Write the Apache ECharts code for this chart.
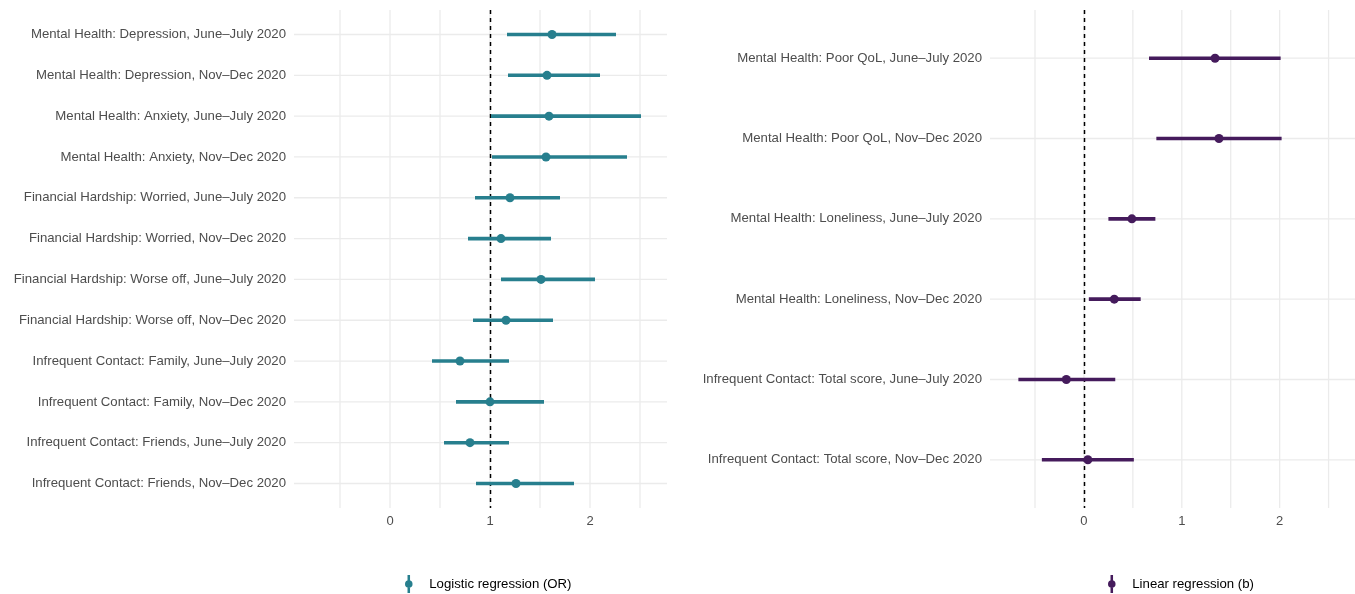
<!DOCTYPE html>
<html><head><meta charset="utf-8">
<script src="https://cdn.jsdelivr.net/npm/echarts@6/dist/echarts.min.js"></script>
<style>html,body{margin:0;padding:0;background:#fff}#c{width:1355px;height:594px}</style>
</head><body><div id="c"></div>
<script>
// Left panel: logistic regression (OR)
const leftCategories = [
  "Mental Health: Depression, June\u2013July 2020",
  "Mental Health: Depression, Nov\u2013Dec 2020",
  "Mental Health: Anxiety, June\u2013July 2020",
  "Mental Health: Anxiety, Nov\u2013Dec 2020",
  "Financial Hardship: Worried, June\u2013July 2020",
  "Financial Hardship: Worried, Nov\u2013Dec 2020",
  "Financial Hardship: Worse off, June\u2013July 2020",
  "Financial Hardship: Worse off, Nov\u2013Dec 2020",
  "Infrequent Contact: Family, June\u2013July 2020",
  "Infrequent Contact: Family, Nov\u2013Dec 2020",
  "Infrequent Contact: Friends, June\u2013July 2020",
  "Infrequent Contact: Friends, Nov\u2013Dec 2020"
];
const leftEstimate = [1.62, 1.57, 1.59, 1.56, 1.20, 1.11, 1.51, 1.16, 0.70, 1.00, 0.80, 1.26];
const leftLower    = [1.17, 1.18, 1.01, 1.02, 0.85, 0.78, 1.11, 0.83, 0.42, 0.66, 0.54, 0.86];
const leftUpper    = [2.26, 2.10, 2.51, 2.37, 1.70, 1.61, 2.05, 1.63, 1.19, 1.54, 1.19, 1.84];
const leftRef = 1;

// Right panel: linear regression (b)
const rightCategories = [
  "Mental Health: Poor QoL, June\u2013July 2020",
  "Mental Health: Poor QoL, Nov\u2013Dec 2020",
  "Mental Health: Loneliness, June\u2013July 2020",
  "Mental Health: Loneliness, Nov\u2013Dec 2020",
  "Infrequent Contact: Total score, June\u2013July 2020",
  "Infrequent Contact: Total score, Nov\u2013Dec 2020"
];
const rightEstimate = [1.34, 1.38, 0.49, 0.31, -0.18, 0.04];
const rightLower    = [0.665, 0.74, 0.25, 0.05, -0.67, -0.43];
const rightUpper    = [2.01, 2.02, 0.73, 0.58, 0.32, 0.51];
const rightRef = 0;

const xTickLabels = [0, 1, 2];
const xGridValues = [-0.5, 0, 0.5, 1, 1.5, 2, 2.5];
const xMin = -0.96, xMax = 2.77;

const legendNames = ["Logistic regression (OR)", "Linear regression (b)"];
const colors = ["#277F8E", "#451B5C"];

const FONT = "Liberation Sans, Arial, Helvetica, sans-serif";
const TXT = "#4d4d4d";
const GRIDC = "#ebebeb";
const legendIcon = 'path://M3.6,0 L6.4,0 L6.4,20 L3.6,20 Z M0.8,10 A4.2,4.2 0 1,1 9.2,10 A4.2,4.2 0 1,1 0.8,10 Z';

const chart = echarts.init(document.getElementById('c'), null, {renderer: 'canvas'});

function rowIdx(n){ return Array.from({length:n}, (_, i) => i); }

function panel(gi, cats, est, lo, hi, ref, color, name) {
  const series = [];
  series.push({
    type: 'custom', xAxisIndex: gi, yAxisIndex: gi, z: 1, silent: true,
    data: rowIdx(cats.length).map(i => [0, i]),
    renderItem: (params, api) => {
      const cs = params.coordSys;
      const y = api.coord([0, api.value(1)])[1];
      return {type: 'line', shape: {x1: cs.x, y1: y, x2: cs.x + cs.width, y2: y},
        style: {stroke: GRIDC, lineWidth: 1.3}};
    }
  });
  series.push({
    type: 'custom', xAxisIndex: gi, yAxisIndex: gi, z: 1, silent: true,
    data: xGridValues.map(v => [v, 0]),
    renderItem: (params, api) => {
      const cs = params.coordSys;
      const x = api.coord([api.value(0), 0])[0];
      return {type: 'line', shape: {x1: x, y1: cs.y, x2: x, y2: cs.y + cs.height},
        style: {stroke: GRIDC, lineWidth: 1.3}};
    }
  });
  series.push({
    type: 'custom', xAxisIndex: gi, yAxisIndex: gi, z: 3, silent: true,
    data: [[ref, 0]],
    renderItem: (params, api) => {
      const cs = params.coordSys;
      const x = Math.round(api.coord([api.value(0), 0])[0]) + 0.5;
      return {type: 'line', shape: {x1: x, y1: cs.y, x2: x, y2: cs.y + cs.height},
        style: {stroke: '#000', lineWidth: 1.5, lineDash: [4, 4]}};
    }
  });
  series.push({
    type: 'custom', name: name, xAxisIndex: gi, yAxisIndex: gi, z: 5,
    itemStyle: {color: color},
    data: cats.map((c, i) => [lo[i], hi[i], i]),
    renderItem: (params, api) => {
      const a = api.coord([api.value(0), api.value(2)]);
      const b = api.coord([api.value(1), api.value(2)]);
      return {type: 'line', shape: {x1: a[0], y1: a[1], x2: b[0], y2: b[1]},
        style: {stroke: color, lineWidth: 3.6}};
    }
  });
  series.push({
    type: 'scatter', name: name, xAxisIndex: gi, yAxisIndex: gi, z: 6,
    symbol: 'circle', symbolSize: 9, itemStyle: {color: color, opacity: 1},
    data: cats.map((c, i) => [est[i], i])
  });
  return series;
}

const option = {
  animation: false,
  backgroundColor: '#fff',
  textStyle: {fontFamily: FONT},
  grid: [
    {left: 294, right: 1355 - 667, top: 10, bottom: 86, containLabel: false},
    {left: 990, right: 0, top: 10, bottom: 86, containLabel: false}
  ],
  xAxis: [0, 1].map(gi => ({
    type: 'value', gridIndex: gi, min: xMin, max: xMax,
    axisLine: {show: false}, axisTick: {show: false}, splitLine: {show: false},
    axisLabel: {customValues: xTickLabels, color: TXT, fontSize: 13, fontFamily: FONT, margin: 7}
  })),
  yAxis: [leftCategories, rightCategories].map((cats, gi) => ({
    type: 'value', gridIndex: gi, inverse: true, min: -0.6, max: cats.length - 0.4,
    axisLine: {show: false}, axisTick: {show: false}, splitLine: {show: false},
    axisLabel: {customValues: rowIdx(cats.length), formatter: v => cats[Math.round(v)] || '',
      color: TXT, fontSize: 13.2, fontFamily: FONT, margin: 8}
  })),
  legend: [
    {data: [{name: legendNames[0], icon: legendIcon}], left: 400, top: 570, itemWidth: 9, itemHeight: 18,
     textStyle: {color: '#000', fontSize: 13.2, fontFamily: FONT, padding: [0, 0, 0, 11]}, selectedMode: false},
    {data: [{name: legendNames[1], icon: legendIcon}], left: 1103, top: 570, itemWidth: 9, itemHeight: 18,
     textStyle: {color: '#000', fontSize: 13.2, fontFamily: FONT, padding: [0, 0, 0, 11]}, selectedMode: false}
  ],
  series: [].concat(
    panel(0, leftCategories, leftEstimate, leftLower, leftUpper, leftRef, colors[0], legendNames[0]),
    panel(1, rightCategories, rightEstimate, rightLower, rightUpper, rightRef, colors[1], legendNames[1])
  )
};
chart.setOption(option);
</script></body></html>
